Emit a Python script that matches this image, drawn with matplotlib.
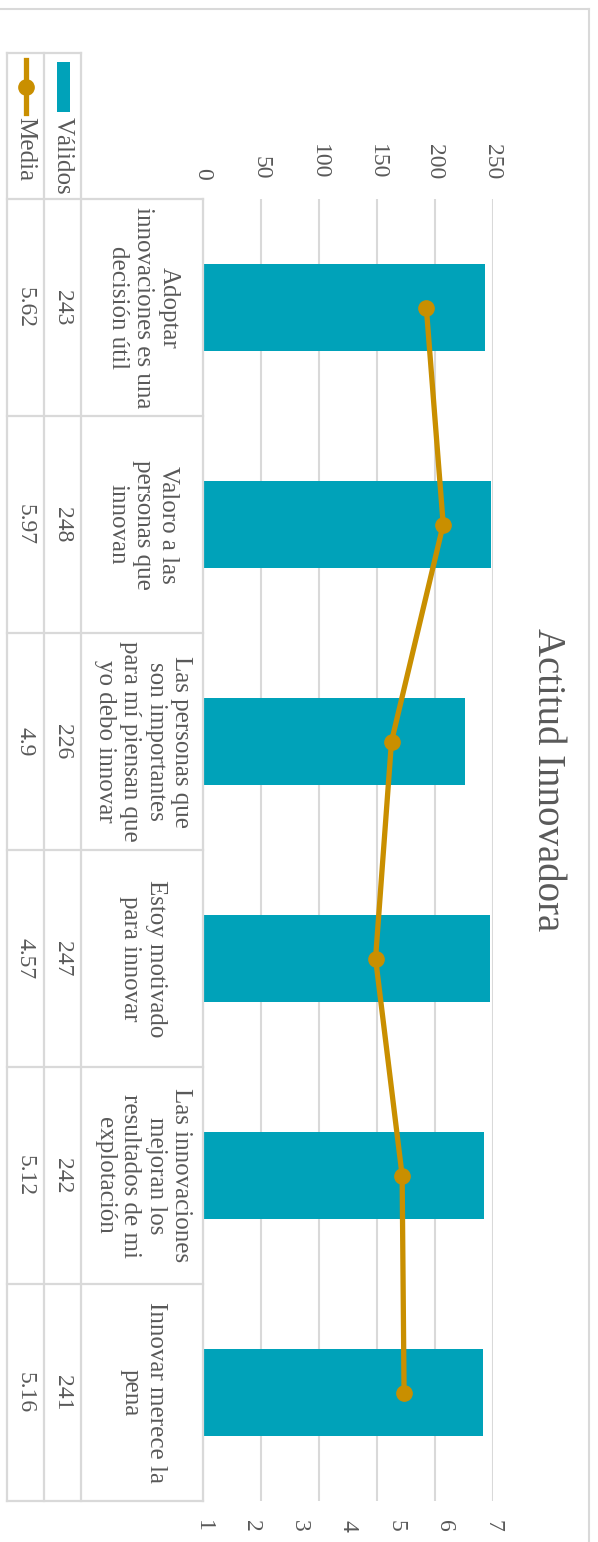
import matplotlib
matplotlib.use("Agg")
import matplotlib.pyplot as plt
import matplotlib.transforms as mtransforms
from matplotlib.lines import Line2D
from matplotlib.patches import Rectangle

plt.rcParams['font.family'] = ['Liberation Serif', 'DejaVu Serif']

# datos
categorias = [
    "Adoptar\ninnovaciones es una\ndecisión útil",
    "Valoro a las\npersonas que\ninnovan",
    "Las personas que\nson importantes\npara mí piensan que\nyo debo innovar",
    "Estoy motivado\npara innovar",
    "Las innovaciones\nmejoran los\nresultados de mi\nexplotación",
    "Innovar merece la\npena",
]
validos = [243, 248, 226, 247, 242, 241]
media = [5.62, 5.97, 4.9, 4.57, 5.12, 5.16]
media_txt = ["5.62", "5.97", "4.9", "4.57", "5.12", "5.16"]
ticks_validos = [0, 50, 100, 150, 200, 250]
ticks_media = [1, 2, 3, 4, 5, 6, 7]
titulo = "Actitud Innovadora"

TEAL = '#00a2b9'
GOLD = '#c98f00'
GRAY = '#595959'
LINE = '#d9d9d9'
FS = 18

W, H = 598, 1542
fig = plt.figure(figsize=(W / 100, H / 100), dpi=100)


def fx(px):
    return px / W


def fy(py):
    return 1 - py / H


# the chart is drawn turned 90 degrees clockwise
ax = fig.add_axes([fx(203), fy(1501), (493 - 203) / W, (1501 - 199) / H])
ax2 = ax.twiny()
pos = list(range(len(categorias)))

ax.barh(pos, validos, height=0.4, color=TEAL, zorder=2)
ax.set_xlim(0, 250)
ax.set_ylim(len(categorias) - 0.5, -0.5)
ax.xaxis.set_ticks_position('top')
ax.set_xticks(ticks_validos)
ax.set_xticklabels([str(t) for t in ticks_validos], rotation=-90)
ax.tick_params(axis='x', length=0, pad=14, labelsize=FS - 1, labelcolor=GRAY)
ax.set_yticks([])
ax.grid(axis='x', color=LINE, lw=1.5)
ax.set_axisbelow(True)
for s in ax.spines.values():
    s.set_visible(False)

ax2.plot(media, pos, color=GOLD, lw=3.8, marker='o', ms=11, zorder=3)
ax2.set_xlim(1, 7)
ax2.xaxis.set_ticks_position('bottom')
ax2.set_xticks(ticks_media)
ax2.set_xticklabels([str(t) for t in ticks_media], rotation=-90)
ax2.tick_params(axis='x', length=0, pad=14, labelsize=FS - 1, labelcolor=GRAY)
for s in ax2.spines.values():
    s.set_visible(False)

# data table on the left
tr = mtransforms.blended_transform_factory(ax.transAxes, ax.transData)


def cx(px):
    return (px - 203) / 290


top_leg = -0.5 - (199 - 53) / 217
n = len(categorias)
for px in [7, 44, 81]:
    ax.add_line(Line2D([cx(px)] * 2, [top_leg, n - 0.5], transform=tr,
                       color=LINE, lw=1.6, clip_on=False))
ax.add_line(Line2D([0, 0], [-0.5, n - 0.5], transform=tr, color=LINE, lw=1.6, clip_on=False))
for i in range(n + 1):
    ax.add_line(Line2D([cx(7), 0], [i - 0.5] * 2, transform=tr, color=LINE, lw=1.6, clip_on=False))
ax.add_line(Line2D([cx(7), cx(81)], [top_leg] * 2, transform=tr, color=LINE, lw=1.6, clip_on=False))

for i in range(n):
    ax.text(cx(143), i, categorias[i], transform=tr, rotation=-90, ha='center', va='center',
            multialignment='center', fontsize=FS, color=GRAY, linespacing=1.2)
    ax.text(cx(62), i, str(validos[i]), transform=tr, rotation=-90, ha='center', va='center',
            fontsize=FS - 1, color=GRAY)
    ax.text(cx(25), i, media_txt[i], transform=tr, rotation=-90, ha='center', va='center',
            fontsize=FS - 1, color=GRAY)

# legend keys
fig.add_artist(Rectangle((fx(57), fy(112)), 13 / W, 50 / H, transform=fig.transFigure,
                         color=TEAL, lw=0))
fig.text(fx(63), fy(117), "Válidos", rotation=-90, ha='center', va='top', fontsize=FS, color=GRAY)
fig.add_artist(Line2D([fx(26)] * 2, [fy(60), fy(113)], transform=fig.transFigure, color=GOLD, lw=3.8))
fig.add_artist(Line2D([fx(26)], [fy(87)], transform=fig.transFigure, color=GOLD, marker='o', ms=11))
fig.text(fx(25), fy(117), "Media", rotation=-90, ha='center', va='top', fontsize=FS, color=GRAY)

fig.text(fx(547), fy(780), titulo, rotation=-90, ha='center', va='center', fontsize=28, color=GRAY)

# chart border
fig.add_artist(Line2D([0, fx(589)], [fy(9)] * 2, transform=fig.transFigure, color=LINE, lw=1.5))
fig.add_artist(Line2D([fx(589)] * 2, [fy(9), 0], transform=fig.transFigure, color=LINE, lw=1.5))

fig.savefig("out.png", dpi=100)
